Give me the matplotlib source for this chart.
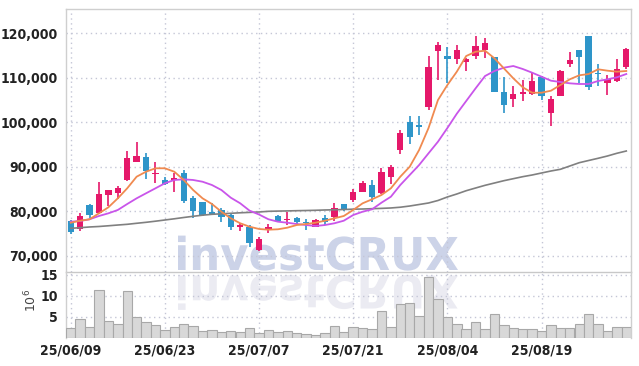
import matplotlib
matplotlib.use("Agg")
import matplotlib.pyplot as plt
import matplotlib.font_manager as fm
from matplotlib.textpath import TextPath
from matplotlib.patches import PathPatch
from matplotlib.font_manager import FontProperties
from matplotlib.transforms import Affine2D
import numpy as np

# trading days (yy/mm/dd)
dates = [
    "25/06/09", "25/06/10", "25/06/11", "25/06/12", "25/06/13",
    "25/06/16", "25/06/17", "25/06/18", "25/06/19", "25/06/20",
    "25/06/23", "25/06/24", "25/06/25", "25/06/26", "25/06/27",
    "25/06/30", "25/07/01", "25/07/02", "25/07/03", "25/07/04",
    "25/07/07", "25/07/08", "25/07/09", "25/07/10", "25/07/11",
    "25/07/14", "25/07/15", "25/07/16", "25/07/17", "25/07/18",
    "25/07/21", "25/07/22", "25/07/23", "25/07/24", "25/07/25",
    "25/07/28", "25/07/29", "25/07/30", "25/07/31", "25/08/01",
    "25/08/04", "25/08/05", "25/08/06", "25/08/07", "25/08/08",
    "25/08/11", "25/08/12", "25/08/13", "25/08/14", "25/08/18",
    "25/08/19", "25/08/20", "25/08/21", "25/08/22", "25/08/25",
    "25/08/26", "25/08/27", "25/08/28", "25/08/29", "25/09/01",
]

opens = [77800, 76100, 81400, 79550, 83750, 84050, 87050, 91150, 92150, 88400,
         87050, 87100, 88550, 83050, 82000, 79900, 80300, 79150, 76550, 76550,
         71300, 75800, 78950, 78000, 78400, 77500, 76550, 78400, 78650, 81650,
         82550, 84400, 85900, 84050, 87800, 93800, 100050, 99300, 103500, 116100,
         114900, 114250, 113550, 114950, 116250, 114750, 106900, 105250, 106450, 106350,
         110100, 102050, 105900, 113050, 116250, 119400, 111000, 108750, 109350, 112500]
highs = [78000, 79550, 81600, 86500, 84900, 85700, 93600, 95650, 93200, 91150,
         87800, 88550, 89300, 83450, 82150, 81950, 80650, 79550, 77300, 76900,
         74300, 77050, 79100, 79900, 78650, 78200, 78200, 79150, 81950, 81650,
         84950, 86900, 87050, 89650, 90400, 98300, 101500, 101500, 114900, 118000,
         116850, 117350, 114500, 119400, 118900, 114750, 110100, 108150, 109500, 111000,
         110300, 106000, 111750, 115850, 116250, 119400, 113100, 110650, 114150, 116650]
lows = [74800, 75650, 78400, 79400, 81200, 82700, 86900, 91100, 87200, 86300,
        85900, 84400, 81950, 78400, 79000, 79150, 77700, 75800, 75650, 72050,
        71000, 75050, 77700, 76900, 77150, 75800, 76400, 76950, 77900, 80100,
        82150, 84250, 82150, 83900, 86150, 92900, 95100, 97150, 102750, 109500,
        108750, 113100, 111500, 114150, 114400, 106900, 102150, 103350, 104800, 106200,
        105000, 99150, 105800, 112500, 108900, 107250, 108150, 106150, 109100, 111900]
closes = [75400, 78950, 79200, 83900, 84800, 85300, 91900, 92450, 89150, 88550,
          86150, 87300, 82300, 80150, 79200, 79400, 78650, 76400, 76700, 72950,
          73800, 76550, 77900, 78200, 77500, 77300, 78050, 77700, 80650, 80300,
          84400, 86300, 83300, 88900, 90050, 97600, 96800, 98850, 112500, 117350,
          114300, 116250, 114250, 117150, 117900, 106900, 103900, 106350, 106550, 109300,
          106000, 105250, 111550, 114000, 114750, 107850, 110850, 109750, 111900, 116450]

# volume, millions of shares
volume = [2.38, 4.44, 2.54, 11.35, 3.97, 3.33, 11.1, 5.0, 3.73, 3.1,
          1.83, 2.54, 3.33, 2.86, 1.59, 1.83, 1.43, 1.67, 1.43, 2.30,
          1.19, 1.83, 1.43, 1.67, 1.19, 0.87, 0.63, 1.19, 2.86, 1.43,
          2.62, 2.38, 2.06, 6.35, 2.62, 8.02, 8.33, 5.24, 14.37, 9.2,
          5.0, 3.33, 2.14, 3.73, 2.14, 5.63, 3.1, 2.38, 2.06, 2.06,
          1.67, 3.1, 2.38, 2.38, 3.33, 5.63, 3.33, 1.67, 2.62, 2.62]

# moving averages
ma_short = [77440, 77890, 78210, 79550, 80900, 82920, 85170, 87780, 88900, 89670,
            89670, 88900, 87040, 84790, 82920, 81640, 79910, 78430, 77310, 76540,
            76030, 75870, 75960, 76320, 76920, 77150, 77440, 77890, 78430, 78950,
            80300, 81800, 82700, 83670, 85170, 87780, 90020, 93780, 98720, 105010,
            108380, 111370, 114900, 115860, 116090, 114380, 112130, 109890, 107870, 106650,
            106650, 107100, 108380, 109660, 110560, 110850, 111910, 111600, 111370, 111530]
ma_mid = [77670, 77820, 78210, 78950, 79550, 80300, 81640, 82920, 84050, 85170,
          86300, 87040, 87190, 87040, 86650, 85910, 84790, 83060, 81800, 80140,
          79280, 78210, 77670, 77440, 77150, 76920, 76700, 76920, 77310, 77890,
          79170, 79910, 80450, 81940, 83280, 85910, 88160, 90410, 93040, 95640,
          98720, 101930, 104790, 107640, 110400, 111530, 112270, 112650, 111980, 111150,
          110250, 109350, 109060, 108760, 108610, 108610, 109280, 109660, 110110, 110850]
ma_long = [76180, 76320, 76480, 76590, 76750, 76920, 77080, 77310, 77530, 77780,
           78050, 78320, 78610, 78880, 79130, 79330, 79440, 79550, 79670, 79760,
           79850, 80000, 80050, 80090, 80140, 80180, 80230, 80300, 80340, 80410,
           80480, 80520, 80590, 80660, 80750, 80920, 81190, 81530, 81870, 82430,
           83220, 83890, 84630, 85240, 85840, 86360, 86880, 87330, 87780, 88160,
           88610, 89060, 89440, 90180, 90920, 91420, 91910, 92430, 93040, 93550]

UP = "#e5186a"
DOWN = "#2e95c9"

# narrow bold face for the tick labels, if there is one
lab_prop = None
for f in fm.fontManager.ttflist:
    if "dejavusanscondensed-bold." in f.fname.lower():
        lab_prop = FontProperties(fname=f.fname)
        break
if lab_prop is None:
    lab_prop = FontProperties(family="DejaVu Sans", weight="bold", stretch="condensed")

fig = plt.figure(figsize=(6.39, 3.66), dpi=100)
W, H = 639, 366
ax = fig.add_axes([66 / W, 1 - 272 / H, 565 / W, 263 / H])
axv = fig.add_axes([66 / W, 1 - 338 / H, 565 / W, 66 / H])
for a in (ax, axv):
    a.set_facecolor("none")

# watermark + reflection, behind the axes
tp = TextPath((0, 0), "investCRUX", size=100,
              prop=FontProperties(family="DejaVu Sans", weight="bold"))
bb = tp.get_extents()
sx = 280 / bb.width
sy = 33 / 72.9
tr = Affine2D().scale(sx, sy).translate(178 - bb.x0 * sx, H - 270)
fig.patches.append(PathPatch(tp, transform=tr, facecolor="#ccd3e8",
                             edgecolor="none", zorder=-5))
tr2 = Affine2D().scale(sx, -sy).translate(178 - bb.x0 * sx, H - 275.5)
fig.patches.append(PathPatch(tp, transform=tr2, facecolor="#ebebf2",
                             edgecolor="none", zorder=-5))

x = np.arange(len(dates))
o = np.array(opens)
c = np.array(closes)
up = c >= o
cols = np.where(up, UP, DOWN)

# candles
ax.vlines(x, lows, highs, colors=cols, linewidth=1.2, zorder=3)
body_lo = np.minimum(o, c)
body_h = np.maximum(np.abs(c - o), 280)
ax.bar(x, body_h, bottom=body_lo, width=0.68, color=cols, zorder=4)

ax.plot(x, ma_long, color="#808080", lw=1.2, zorder=5)
ax.plot(x, ma_mid, color="#c955ea", lw=1.3, zorder=5)
ax.plot(x, ma_short, color="#f08a50", lw=1.3, zorder=5)

ax.set_xlim(-0.5, len(dates) - 0.5)
ax.set_ylim(66364, 125460)
ax.set_yticks([70000, 80000, 90000, 100000, 110000, 120000])
ax.set_yticklabels([f"{v:,}" for v in ax.get_yticks().astype(int)])

# volume
axv.bar(x, volume, width=1.0, color="#d8d8d8", edgecolor="#a8a8a8",
        linewidth=0.8, zorder=3)
axv.set_xlim(-0.5, len(dates) - 0.5)
axv.set_ylim(0, 15.6)
axv.set_yticks([5, 10, 15])

tick_idx = x[::10]
for a in (ax, axv):
    a.set_xticks(tick_idx)
    a.grid(True, color="#c4c6d6", linestyle=(0, (1, 2.5)), linewidth=1.0)
    a.set_axisbelow(True)
    a.tick_params(length=0, pad=6, labelcolor="#222222")
    for lab in a.get_yticklabels():
        lab.set_fontproperties(lab_prop)
        lab.set_fontsize(10)
    for s in a.spines.values():
        s.set_color("#cfcfcf")
        s.set_linewidth(1.0)

ax.set_xticklabels([])
axv.set_xticklabels([dates[i] for i in tick_idx])
for lab in axv.get_xticklabels():
    lab.set_fontproperties(lab_prop)
    lab.set_fontsize(10)
axv.tick_params(axis="x", pad=4)
axv.spines["bottom"].set_visible(False)
axv.spines["top"].set_visible(False)
ax.spines["bottom"].set_color("#c8c8c8")

fig.text(31 / W, 1 - 300 / H, r"$10^{6}$", rotation=90, ha="center",
         va="center", fontsize=9, color="#444444")

fig.savefig("out.png", dpi=100)
